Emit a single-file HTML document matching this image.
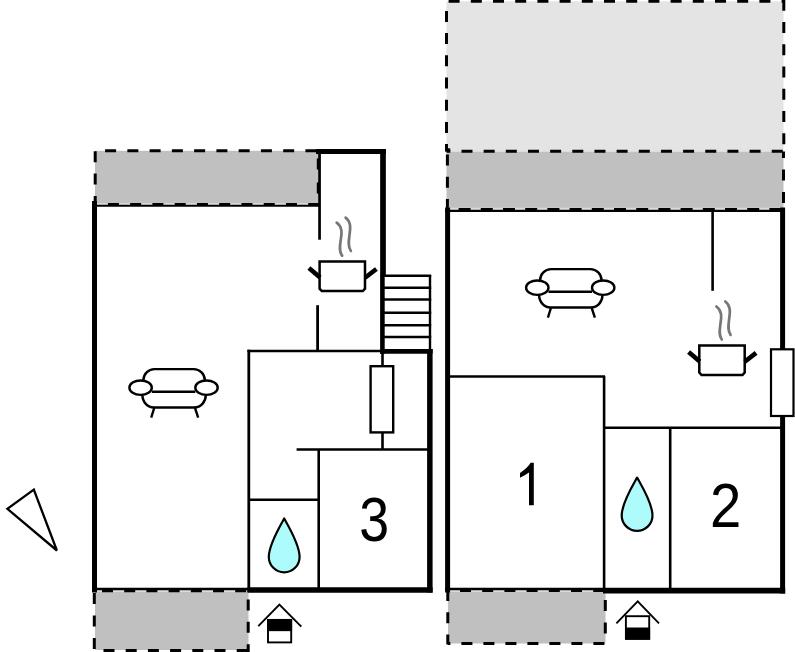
<!DOCTYPE html>
<html><head><meta charset="utf-8"><style>
html,body{margin:0;padding:0;background:#fff;width:795px;height:652px;overflow:hidden;}
svg{display:block;font-family:"Liberation Sans",sans-serif;}
</style></head><body>
<svg width="795" height="652" viewBox="0 0 795 652">
<rect x="446.5" y="1.3" width="337" height="150.2" fill="#e4e4e4" />
<rect x="446.5" y="151.6" width="337" height="57.6" fill="#c0c0c0" />
<rect x="448" y="591" width="157.5" height="52.5" fill="#c0c0c0" />
<rect x="95" y="150.8" width="224.5" height="53.5" fill="#c0c0c0" />
<rect x="95" y="591" width="153.5" height="59" fill="#c0c0c0" />
<line x1="446.5" y1="1.3" x2="784" y2="1.3" stroke="#000" stroke-width="3" stroke-dasharray="11 11.20" stroke-dashoffset="20.10"/>
<line x1="446.5" y1="0" x2="446.5" y2="151.5" stroke="#000" stroke-width="3" stroke-dasharray="11 11.20" stroke-dashoffset="11.30"/>
<line x1="783.8" y1="0" x2="783.8" y2="151.5" stroke="#000" stroke-width="3" stroke-dasharray="11 11.25" stroke-dashoffset="0.20"/>
<line x1="446.5" y1="151.3" x2="784" y2="151.3" stroke="#000" stroke-width="3" stroke-dasharray="11 11.16" stroke-dashoffset="7.16"/>
<line x1="445.2" y1="149.8" x2="450.2" y2="149.8" stroke="#000" stroke-width="3" stroke-dasharray="5 17.20" stroke-dashoffset="0.00"/>
<line x1="447.4" y1="151.5" x2="447.4" y2="209" stroke="#000" stroke-width="3" stroke-dasharray="11 11.30" stroke-dashoffset="19.30"/>
<line x1="783.5" y1="151.5" x2="783.5" y2="209" stroke="#000" stroke-width="3" stroke-dasharray="11 11.50" stroke-dashoffset="4.50"/>
<line x1="448" y1="208.6" x2="781" y2="208.6" stroke="#dcdcdc" stroke-width="1.6" />
<line x1="446.5" y1="209.2" x2="784" y2="209.2" stroke="#000" stroke-width="2.6" stroke-dasharray="12 10.20" stroke-dashoffset="10.10"/>
<line x1="447.8" y1="590" x2="447.8" y2="644.5" stroke="#000" stroke-width="3" stroke-dasharray="11 11.30" stroke-dashoffset="0.00"/>
<line x1="605.3" y1="590" x2="605.3" y2="644.5" stroke="#000" stroke-width="3" stroke-dasharray="11 11.40" stroke-dashoffset="12.40"/>
<line x1="447.8" y1="643.6" x2="605.5" y2="643.6" stroke="#000" stroke-width="3" stroke-dasharray="11 11.00" stroke-dashoffset="8.40"/>
<line x1="449" y1="591.1" x2="604" y2="591.1" stroke="#dcdcdc" stroke-width="1.6" />
<line x1="447.8" y1="590.7" x2="605.3" y2="590.7" stroke="#000" stroke-width="2.6" stroke-dasharray="11 11.20" stroke-dashoffset="10.00"/>
<line x1="94" y1="150.8" x2="319.5" y2="150.8" stroke="#000" stroke-width="3" stroke-dasharray="11 11.26" stroke-dashoffset="11.16"/>
<line x1="95.2" y1="150.8" x2="95.2" y2="205" stroke="#000" stroke-width="3" stroke-dasharray="11 11.30" stroke-dashoffset="21.80"/>
<line x1="318.3" y1="150.8" x2="318.3" y2="205" stroke="#000" stroke-width="3" stroke-dasharray="11 13.10" stroke-dashoffset="16.50"/>
<line x1="96" y1="203.8" x2="318" y2="203.8" stroke="#d8d8d8" stroke-width="1.6" />
<line x1="95" y1="204.4" x2="319.5" y2="204.4" stroke="#000" stroke-width="3" stroke-dasharray="11 11.26" stroke-dashoffset="9.36"/>
<line x1="94.3" y1="590" x2="94.3" y2="650.5" stroke="#000" stroke-width="3" stroke-dasharray="11 11.50" stroke-dashoffset="19.50"/>
<line x1="248.2" y1="590" x2="248.2" y2="652" stroke="#000" stroke-width="3" stroke-dasharray="11 11.40" stroke-dashoffset="13.00"/>
<line x1="94.3" y1="650.6" x2="248.2" y2="650.6" stroke="#000" stroke-width="3" stroke-dasharray="11 11.20" stroke-dashoffset="13.00"/>
<line x1="96" y1="591.1" x2="247" y2="591.1" stroke="#dcdcdc" stroke-width="1.6" />
<line x1="94.3" y1="590.9" x2="248.2" y2="590.9" stroke="#000" stroke-width="2.6" stroke-dasharray="11 11.20" stroke-dashoffset="14.50"/>
<line x1="316" y1="151.5" x2="386" y2="151.5" stroke="#000" stroke-width="5" />
<line x1="383" y1="149" x2="383" y2="276" stroke="#000" stroke-width="5.7" />
<line x1="382.4" y1="275" x2="382.4" y2="354" stroke="#000" stroke-width="4.6" />
<line x1="94.5" y1="201" x2="94.5" y2="592.5" stroke="#000" stroke-width="5" />
<line x1="92" y1="589" x2="249" y2="589" stroke="#000" stroke-width="2.5" />
<line x1="247.5" y1="590.05" x2="432.6" y2="590.05" stroke="#000" stroke-width="5.5" />
<line x1="429.85" y1="349" x2="429.85" y2="592.5" stroke="#000" stroke-width="5.5" />
<line x1="381" y1="351.4" x2="432.6" y2="351.4" stroke="#000" stroke-width="4.8" />
<line x1="95" y1="205.8" x2="320" y2="205.8" stroke="#000" stroke-width="2.1" />
<line x1="319.55" y1="150" x2="319.55" y2="239.7" stroke="#000" stroke-width="2.7" />
<line x1="317.6" y1="305.2" x2="317.6" y2="350" stroke="#000" stroke-width="2.8" />
<line x1="247.4" y1="351.0" x2="383" y2="351.0" stroke="#000" stroke-width="2.6" />
<line x1="248.8" y1="349.7" x2="248.8" y2="592" stroke="#000" stroke-width="2.8" />
<line x1="382.5" y1="352" x2="382.5" y2="449" stroke="#000" stroke-width="2.6" />
<line x1="296.6" y1="449.5" x2="428" y2="449.5" stroke="#000" stroke-width="2.6" />
<line x1="318.7" y1="450" x2="318.7" y2="590" stroke="#000" stroke-width="2.6" />
<line x1="249" y1="499.7" x2="318" y2="499.7" stroke="#000" stroke-width="2.6" />
<rect x="370.6" y="366.2" width="22.6" height="66.2" fill="#fff" stroke="#000" stroke-width="2.4"/>
<line x1="430" y1="275" x2="430" y2="352" stroke="#000" stroke-width="2.4" />
<line x1="383" y1="275.8" x2="431.2" y2="275.8" stroke="#000" stroke-width="2.4" />
<line x1="383" y1="287.8" x2="431.2" y2="287.8" stroke="#000" stroke-width="2.4" />
<line x1="383" y1="299.5" x2="431.2" y2="299.5" stroke="#000" stroke-width="2.4" />
<line x1="383" y1="312.8" x2="431.2" y2="312.8" stroke="#000" stroke-width="2.4" />
<line x1="383" y1="325.2" x2="431.2" y2="325.2" stroke="#000" stroke-width="2.4" />
<line x1="383" y1="337.0" x2="431.2" y2="337.0" stroke="#000" stroke-width="2.4" />
<line x1="445" y1="210.8" x2="785" y2="210.8" stroke="#000" stroke-width="2.2" />
<line x1="447.6" y1="207.5" x2="447.6" y2="592.5" stroke="#000" stroke-width="5" />
<line x1="782.6" y1="207.5" x2="782.6" y2="593.5" stroke="#000" stroke-width="5" />
<line x1="445" y1="589" x2="605" y2="589" stroke="#000" stroke-width="2.7" />
<line x1="603" y1="590.6" x2="785.2" y2="590.6" stroke="#000" stroke-width="5.8" />
<line x1="712.6" y1="212" x2="712.6" y2="290.8" stroke="#000" stroke-width="2.6" />
<line x1="448" y1="376.5" x2="605" y2="376.5" stroke="#000" stroke-width="2.6" />
<line x1="604.1" y1="376" x2="604.1" y2="590" stroke="#000" stroke-width="2.6" />
<line x1="604" y1="427.7" x2="782" y2="427.7" stroke="#000" stroke-width="2.6" />
<line x1="670.2" y1="427.7" x2="670.2" y2="590" stroke="#000" stroke-width="2.6" />
<rect x="771" y="349.3" width="22.5" height="66.7" fill="#fff" stroke="#000" stroke-width="2.2"/>
<g transform="translate(0,0)" fill="none" stroke="#000" stroke-width="2.4" stroke-linecap="butt"><path d="M540.1,281 L540.1,280 A11,11 0 0 1 551.1,269.1 L590.5,269.1 A11,11 0 0 1 601.5,280 L601.5,281"/><path d="M548.5,291.8 L592,291.8"/><path d="M539.1,295 A11.5,12.5 0 0 0 550.6,307.5 L591,307.5 A11.5,12.5 0 0 0 602.5,295"/><path d="M550.9,308 L547.9,317.6 M591.7,308 L594.9,317.6"/><ellipse cx="537.3" cy="287.7" rx="11.2" ry="7.2" fill="#fff"/><ellipse cx="603.2" cy="287.7" rx="11.2" ry="7.2" fill="#fff"/></g>
<g transform="translate(-396.7,100)" fill="none" stroke="#000" stroke-width="2.4" stroke-linecap="butt"><path d="M540.1,281 L540.1,280 A11,11 0 0 1 551.1,269.1 L590.5,269.1 A11,11 0 0 1 601.5,280 L601.5,281"/><path d="M548.5,291.8 L592,291.8"/><path d="M539.1,295 A11.5,12.5 0 0 0 550.6,307.5 L591,307.5 A11.5,12.5 0 0 0 602.5,295"/><path d="M550.9,308 L547.9,317.6 M591.7,308 L594.9,317.6"/><ellipse cx="537.3" cy="287.7" rx="11.2" ry="7.2" fill="#fff"/><ellipse cx="603.2" cy="287.7" rx="11.2" ry="7.2" fill="#fff"/></g>
<g transform="translate(698.2,344.3)"><path d="M1.1,1.1 L46.5,1.1 L46.5,28.3 L44.3,30.6 L3.3,30.6 L1.1,28.3 Z" fill="#fff" stroke="#000" stroke-width="2.5" stroke-linejoin="miter"/><path d="M-9.6,7.7 L1.6,17.2" stroke="#000" stroke-width="4.6" stroke-linecap="butt"/><path d="M57.9,8.6 L46.5,17.4" stroke="#000" stroke-width="4.6" stroke-linecap="butt"/><path d="M18.2,-37.8 C24,-33.5 23.3,-27.5 22.4,-21.5 C21.5,-15 20.2,-9 23.6,-4.8" fill="none" stroke="#777" stroke-width="2.7" stroke-linecap="round"/><path d="M27.1,-42.8 C33,-38.5 31.8,-31.5 31,-25.5 C30.2,-19.5 29.2,-13.5 32.4,-9.4" fill="none" stroke="#777" stroke-width="2.7" stroke-linecap="round"/></g>
<g transform="translate(318.5,260.4)"><path d="M1.1,1.1 L46.5,1.1 L46.5,28.3 L44.3,30.6 L3.3,30.6 L1.1,28.3 Z" fill="#fff" stroke="#000" stroke-width="2.5" stroke-linejoin="miter"/><path d="M-9.6,7.7 L1.6,17.2" stroke="#000" stroke-width="4.6" stroke-linecap="butt"/><path d="M57.9,8.6 L46.5,17.4" stroke="#000" stroke-width="4.6" stroke-linecap="butt"/><path d="M18.2,-37.8 C24,-33.5 23.3,-27.5 22.4,-21.5 C21.5,-15 20.2,-9 23.6,-4.8" fill="none" stroke="#777" stroke-width="2.7" stroke-linecap="round"/><path d="M27.1,-42.8 C33,-38.5 31.8,-31.5 31,-25.5 C30.2,-19.5 29.2,-13.5 32.4,-9.4" fill="none" stroke="#777" stroke-width="2.7" stroke-linecap="round"/></g>
<path d="M637.1,477.6 C642.1,486.5 652.5,503.5 652.5,515.5 A15.4,15.4 0 0 1 621.7,515.5 C621.7,503.5 632.1,486.5 637.1,477.6 Z" fill="#aefbfc" stroke="#000" stroke-width="2.2" stroke-linejoin="round"/>
<path d="M284.2,518.5 C289.2,527.4 299.59999999999997,544.9 299.59999999999997,556.9 A15.4,15.4 0 0 1 268.8,556.9 C268.8,544.9 279.2,527.4 284.2,518.5 Z" fill="#aefbfc" stroke="#000" stroke-width="2.2" stroke-linejoin="round"/>
<path d="M616.4,623.3 L637.7,601.4 L659,623.3" fill="none" stroke="#000" stroke-width="1.9"/><rect x="625.9" y="616.1999999999999" width="23.300000000000022" height="22.60000000000009" fill="#fff" stroke="#000" stroke-width="1.9"/><rect x="625" y="627.5" width="25.100000000000023" height="12.200000000000045" fill="#000"/>
<path d="M258.3,626.1 L279.4,604.5 L301.3,626.6" fill="none" stroke="#000" stroke-width="1.9"/><rect x="268.0" y="619.9" width="23.2" height="22.499999999999954" fill="#fff" stroke="#000" stroke-width="1.9"/><rect x="267.1" y="619" width="25.0" height="12.149999999999977" fill="#000"/>
<path d="M33.8,489.6 L7.4,508.9 L56.9,550.5 Z" fill="none" stroke="#000" stroke-width="2.3" stroke-linejoin="miter" stroke-miterlimit="3"/>
<path d="M529,505.3 L533.8,505.3 L533.8,462.8 L530.6,462.8 Q528,467.5 520,473 L520,477.8 Q525,475.5 529,472.6 Z" fill="#000"/>
<text transform="translate(710,526.9) scale(0.9,1)" x="0" y="0" font-family="Liberation Sans" font-size="62.5" fill="#000">2</text>
<text transform="translate(359.3,541) scale(0.86,1)" x="0" y="0" font-family="Liberation Sans" font-size="62.5" fill="#000">3</text>
</svg>
</body></html>
